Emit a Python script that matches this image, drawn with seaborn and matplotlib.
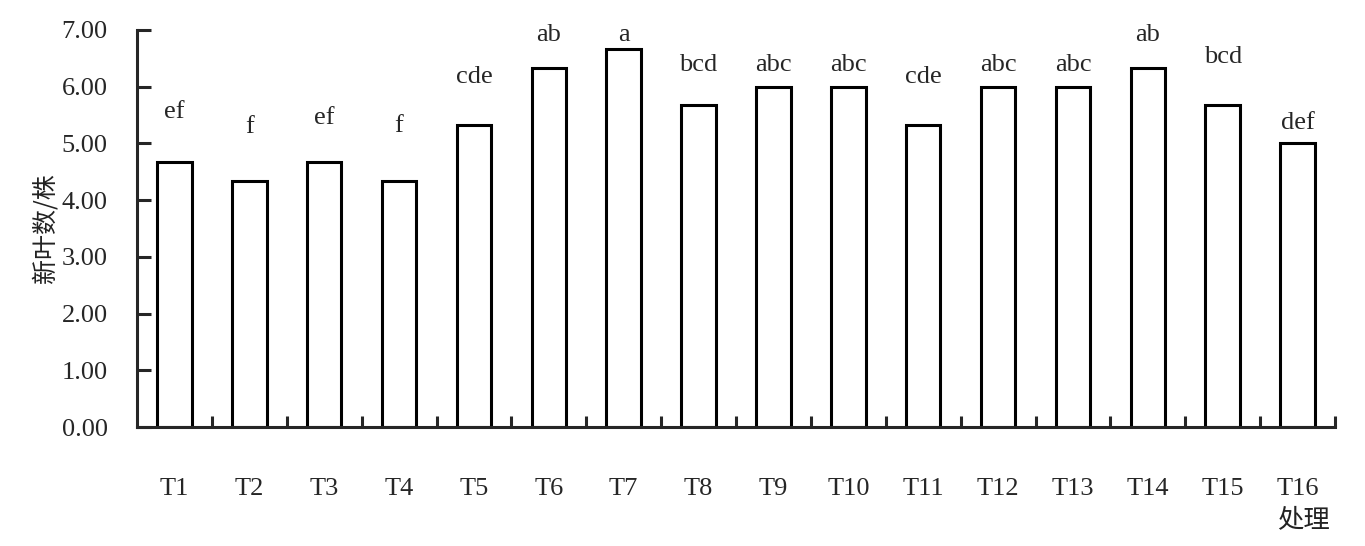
import matplotlib
matplotlib.use("Agg")
import matplotlib.pyplot as plt
import numpy as np
import pandas as pd
import seaborn as sns

# ---- data ----
treatments = ["T1", "T2", "T3", "T4", "T5", "T6", "T7", "T8",
              "T9", "T10", "T11", "T12", "T13", "T14", "T15", "T16"]
new_leaves = [4.67, 4.33, 4.67, 4.33, 5.33, 6.33, 6.67, 5.67,
              6.00, 6.00, 5.33, 6.00, 6.00, 6.33, 5.67, 5.00]
# significance letters and the height they sit at (top of the hidden error bar)
letters = ["ef", "f", "ef", "f", "cde", "ab", "a", "bcd",
           "abc", "abc", "cde", "abc", "abc", "ab", "bcd", "def"]
letter_base = [5.45, 5.19, 5.34, 5.20, 6.07, 6.81, 6.81, 6.28,
               6.28, 6.28, 6.07, 6.28, 6.28, 6.81, 6.42, 5.26]

df = pd.DataFrame({"treatment": treatments, "leaves": new_leaves})

sns.set_style("ticks")
plt.rcParams["font.family"] = ["Liberation Serif", "Noto Sans CJK SC"]

LW = 2.2
FS = 19
fig = plt.figure(figsize=(13.65, 5.46), dpi=100)
ax = fig.add_axes([137 / 1365, 1 - 427 / 546, (1335 - 137) / 1365, (427 - 30) / 546])

sns.barplot(data=df, x="treatment", y="leaves", color="white",
            edgecolor="black", linewidth=LW, width=0.46, saturation=1, ax=ax)

for i, (lab, yb) in enumerate(zip(letters, letter_base)):
    ax.text(i, yb, lab, ha="center", va="baseline", fontsize=FS)

ax.set_xlim(-0.5, len(treatments) - 0.5)
ax.set_ylim(0, 7)
ax.set_yticks(np.arange(0, 8, 1))
ax.set_yticklabels([f"{v:.2f}" for v in np.arange(0, 8, 1)])

# category ticks: labels at centres, tick marks at boundaries
ax.set_xticks(np.arange(len(treatments)))
ax.set_xticklabels(treatments)
ax.set_xticks(np.arange(0.5, len(treatments), 1), minor=True)
ax.tick_params(axis="x", which="major", length=0, pad=37, labelsize=FS)
ax.tick_params(axis="x", which="minor", direction="in", length=8, width=LW)
ax.tick_params(axis="y", direction="in", length=10, width=LW, labelsize=FS, pad=21)

for side in ["top", "right"]:
    ax.spines[side].set_visible(False)
for side in ["left", "bottom"]:
    ax.spines[side].set_linewidth(LW)

ax.set_xlabel("")
ax.set_ylabel("新叶数/株", fontsize=18, family=["Noto Sans CJK SC"], color="#222222", labelpad=2)
fig.text(1303 / 1365, 1 - 520 / 546, "处理", ha="center", va="center",
         fontsize=19, family=["Noto Sans CJK SC"], color="#222222")

fig.savefig("out.png", dpi=100)
